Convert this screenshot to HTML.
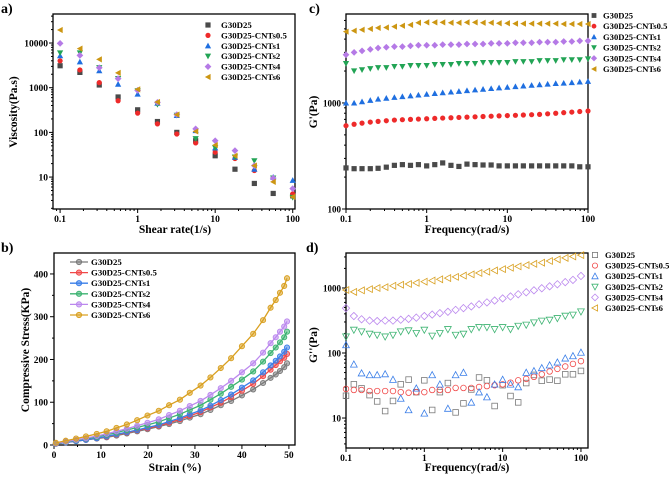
<!DOCTYPE html>
<html><head><meta charset="utf-8"><style>
body{margin:0;background:#fff;}
svg{display:block;font-family:"Liberation Serif",serif;font-weight:bold;}
</style></head><body>
<svg id="fig" width="669" height="478" viewBox="0 0 669 478"></svg>
<script>
// ---- Panel a data ----
const aX=[0.1,0.18,0.32,0.56,1,1.8,3.2,5.6,10,18,32,56,100];
const aG=[3100,2200,1150,620,320,175,100,65,30,15,7.2,4.3,3.8];
const aR=[4000,2500,1300,510,270,155,92,58,36,26,14,9.5,4.2];
const aB=[5200,3800,2400,1200,720,450,240,110,45,28,15,10,8.5];
const aGr=[6000,6000,2800,1600,850,420,240,72,45,28,23,9.5,3.5];
const aP=[9800,5300,2800,1600,870,470,250,120,65,39,18,9.5,5.5];
const aY=[19500,7500,4300,2150,920,480,250,105,52,30,18,7.8,3.6];
// ---- Panel b data ----
const bX=[0.4,2.5,4.7,6.8,9.1,11.2,13.3,15.5,17.7,19.9,22.3,24.5,26.8,28.9,31.2,33.3,35.5,37.7,40,42.4,44.5,46.1,47.2,48.1,49,49.6];
const bG=[3,6,9,12,15,18,22,27,32,37,43,49,56,64,72,82,93,103,116,130,145,157,165,173,182,191];
const bR=[3,6,9,12,16,19,24,29,34,39,45,52,60,68,77,88,99,112,127,143,161,176,187,196,204,213];
const bB=[3,6,9,12,16,20,25,30,35,41,47,55,63,72,81,92,105,118,134,151,170,186,197,207,218,228];
const bGr=[4,7,11,15,19,24,29,35,41,47,54,63,72,82,93,106,120,136,153,172,195,215,228,240,252,265];
const bP=[4,8,12,16,21,26,32,38,45,52,60,70,80,91,103,117,133,150,170,191,216,238,252,265,277,289];
const bY=[5,10,15,20,26,32,40,48,58,69,80,93,106,122,139,158,180,203,231,260,292,321,339,356,372,390];
// ---- Panels c/d frequencies ----
const fX=[0.1,0.126,0.158,0.2,0.25,0.316,0.398,0.5,0.63,0.79,1,1.26,1.58,2,2.51,3.16,3.98,5,6.3,7.9,10,12.6,15.8,20,25.1,31.6,39.8,50,63,79,100];
const cG=[244,240,240,240,242,248,258,262,258,262,255,262,272,258,252,265,262,260,260,255,255,255,255,255,255,255,255,255,255,250,250];
const cR=[610,630,645,660,670,680,690,695,700,705,710,715,720,725,730,735,740,745,750,755,760,765,770,775,780,790,800,810,820,830,840];
const cB=[1000,1000,1030,1060,1090,1110,1130,1150,1170,1190,1210,1230,1250,1270,1290,1310,1330,1350,1370,1390,1410,1430,1450,1470,1490,1510,1530,1540,1560,1580,1600];
const cGr=[2350,2000,2050,2100,2150,2150,2200,2200,2250,2250,2250,2300,2300,2300,2350,2350,2350,2400,2400,2400,2400,2450,2450,2450,2500,2500,2500,2550,2550,2550,2600];
const cP=[2850,3000,3100,3200,3300,3350,3400,3400,3450,3500,3500,3500,3550,3550,3550,3600,3600,3600,3650,3650,3650,3700,3700,3700,3750,3750,3750,3800,3800,3850,3850];
const cY=[4700,4800,4900,5000,5100,5150,5250,5350,5450,5700,5750,5750,5750,5700,5700,5750,5750,5700,5700,5650,5650,5600,5600,5600,5600,5600,5600,5550,5550,5550,5550];
const dG=[22,33,28.6,22.5,18,12.8,18.3,33,39,25,38,13.3,25,34.5,12.2,16.8,27.5,42,38,15.3,32,21.8,17.4,34.5,46,37.5,39,37.5,47,47,53];
const dR=[28,27,27,26,26,26,26,25,24.5,25,25,27,27,27,29,29,29,30,31,32,33,35,38,40,43,47,52,57,62,68,75];
const dB=[133,67,49,46,46,47.5,39,20,13.3,28.6,11.8,46,33,14,46,50,17.4,25,21,33,39,33,30,50,53,59,65,72,83,90,102];
const dGr=[178,226,213,196,189,178,189,213,221,201,226,183,201,231,189,196,231,248,248,231,248,231,260,270,293,311,322,341,371,385,432];
const dP=[490,370,330,315,310,315,315,325,335,350,370,390,410,430,460,490,520,560,600,640,690,740,800,860,920,990,1060,1140,1230,1330,1530];
const dY=[930,870,920,960,1000,1030,1080,1120,1150,1200,1250,1300,1360,1420,1480,1550,1620,1700,1780,1860,1950,2050,2150,2250,2350,2450,2600,2750,2900,3050,3200];
const names=['G30D25','G30D25-CNTs0.5','G30D25-CNTs1','G30D25-CNTs2','G30D25-CNTs4','G30D25-CNTs6'];
const aTicks=['0.1','1','10','100'];

const NS='http://www.w3.org/2000/svg';
const svg=document.getElementById('fig');
function el(tag,attrs,parent,text){const e=document.createElementNS(NS,tag);for(const k in attrs)e.setAttribute(k,attrs[k]);if(text!==undefined)e.textContent=text;(parent||svg).appendChild(e);return e;}
const COL=['#4a4a4a','#ee2a2a','#1f6fe0','#22a455','#b57ae6','#cc9612'];
const COLb=['#7a7a7a','#f04848','#3a7ee8','#3cb371','#bb88ee','#d9a020'];

function logScale(min,max,p0,p1){const a=Math.log10(min),b=Math.log10(max);return v=>p0+(Math.log10(v)-a)/(b-a)*(p1-p0);}
function linScale(min,max,p0,p1){return v=>p0+(v-min)/(max-min)*(p1-p0);}

function marker(g,type,x,y,c,filled,s){
  s=s||2.6;
  const f=filled?c:'none',st=filled?'none':c;
  const common={fill:f,stroke:st,'stroke-width':filled?0:0.8};
  let m;
  if(type==='sq')m=el('rect',Object.assign({x:x-s,y:y-s,width:2*s,height:2*s},common),g);
  else if(type==='ci')m=el('circle',Object.assign({cx:x,cy:y,r:s},common),g);
  else if(type==='tu')m=el('polygon',Object.assign({points:`${x},${y-s*1.2} ${x-s*1.2},${y+s} ${x+s*1.2},${y+s}`},common),g);
  else if(type==='td')m=el('polygon',Object.assign({points:`${x},${y+s*1.2} ${x-s*1.2},${y-s} ${x+s*1.2},${y-s}`},common),g);
  else if(type==='di')m=el('polygon',Object.assign({points:`${x},${y-s*1.3} ${x+s*1.3},${y} ${x},${y+s*1.3} ${x-s*1.3},${y}`},common),g);
  else m=el('polygon',Object.assign({points:`${x-s*1.2},${y} ${x+s},${y-s*1.2} ${x+s},${y+s*1.2}`},common),g);
  
  
  return m;
}
const TYPES=['sq','ci','tu','td','di','tl'];

function frame(g,L,T,R,B){el('rect',{x:L,y:T,width:R-L,height:B-T,fill:'none',stroke:'#000','stroke-width':1.3},g);}
function logXAxis(g,sx,B,min,max,labels){
  for(let d=Math.floor(Math.log10(min));d<=Math.ceil(Math.log10(max));d++){
    for(let k=1;k<10;k++){const v=k*Math.pow(10,d);if(v<min*0.999||v>max*1.001)continue;const x=sx(v);
      el('line',{x1:x,y1:B,x2:x,y2:B+(k===1?4:2),stroke:'#000','stroke-width':1},g);}
  }
  labels.forEach(l=>{const t=el('text',{x:sx(parseFloat(l)),y:B+13,'font-size':9.5,'text-anchor':'middle'},g,l);});
}
function logYAxis(g,sy,L,min,max,labels,fs){
  for(let d=Math.floor(Math.log10(min));d<=Math.ceil(Math.log10(max));d++){
    for(let k=1;k<10;k++){const v=k*Math.pow(10,d);if(v<min*0.999||v>max*1.001)continue;const y=sy(v);
      el('line',{x1:L,y1:y,x2:L-(k===1?4:2),y2:y,stroke:'#000','stroke-width':1},g);}
  }
  labels.forEach(l=>{const t=el('text',{x:L-5,y:sy(parseFloat(l))+3.5,'font-size':fs||9.5,'text-anchor':'end'},g,l);});
}
function title(g,txt,x,y,rot,name){const a={x:x,y:y,'font-size':11.5,'text-anchor':'middle'};if(rot)a.transform=`rotate(-90 ${x} ${y})`;const t=el('text',a,g,txt);}
function plabel(txt,x,y){const t=el('text',{x:x,y:y,'font-size':14},svg,txt);}

// ===== Panel a =====
(function(){
  const g=el('g',{});
  const L=53,R=295,T=14,B=209;
  const sx=logScale(0.081,107,L,R), sy=logScale(1.93,44600,B,T);
  frame(g,L,T,R,B);
  logXAxis(g,sx,B,0.081,107,aTicks);
  logYAxis(g,sy,L,1.93,44600,['10','100','1000','10000']);
  [aG,aR,aB,aGr,aP,aY].forEach((s,i)=>s.forEach((v,j)=>marker(g,TYPES[i],sx(aX[j]),sy(v),COL[i],true,2.6)));
  names.forEach((n,i)=>{const y=25+i*10.4;marker(g,TYPES[i],208,y,COL[i],true,2.6);const t=el('text',{x:221,y:y+3,'font-size':8.8},g,n);});
  title(g,'Shear rate(1/s)',175,233,false,'x-axis-title');
  title(g,'Viscosity(Pa.s)',17,112,true,'y-axis-title');
})();
plabel('a)',1,13);

// ===== Panel c =====
(function(){
  const g=el('g',{});
  const L=346,R=588,T=14,B=209;
  const sx=logScale(0.1,100,L,R), sy=logScale(100,6900,B,T);
  frame(g,L,T,R,B);
  logXAxis(g,sx,B,0.1,100,aTicks);
  logYAxis(g,sy,L,100,6900,['100','1000'],9);
  [cG,cR,cB,cGr,cP,cY].forEach((s,i)=>s.forEach((v,j)=>marker(g,TYPES[i],sx(fX[j]),sy(v),COL[i],true,2.6)));
  names.forEach((n,i)=>{const y=15.5+i*10.7;marker(g,TYPES[i],594,y,COL[i],true,2.4);const t=el('text',{x:603,y:y+3,'font-size':8.6},g,n);});
  title(g,"Frequency(rad/s)",467,233,false,'x-axis-title');
  title(g,"G'(Pa)",317,112,true,'y-axis-title');
})();
plabel('c)',309,13);

// ===== Panel b =====
(function(){
  const g=el('g',{});
  const L=54,R=295,T=253,B=445;
  const sx=linScale(0,51.3,L,R), sy=linScale(0,449,B,T);
  frame(g,L,T,R,B);
  [0,10,20,30,40,50].forEach(v=>{const x=sx(v);el('line',{x1:x,y1:B,x2:x,y2:B+4,stroke:'#000'},g);const t=el('text',{x:x,y:B+13,'font-size':9.5,'text-anchor':'middle'},g,String(v));});
  [5,15,25,35,45].forEach(v=>{const x=sx(v);el('line',{x1:x,y1:B,x2:x,y2:B+2,stroke:'#000'},g);});
  [0,100,200,300,400].forEach(v=>{const y=sy(v);el('line',{x1:L,y1:y,x2:L-4,y2:y,stroke:'#000'},g);const t=el('text',{x:L-6,y:y+3.5,'font-size':9.5,'text-anchor':'end'},g,String(v));});
  [50,150,250,350].forEach(v=>{const y=sy(v);el('line',{x1:L,y1:y,x2:L-2,y2:y,stroke:'#000'},g);});
  [bG,bR,bB,bGr,bP,bY].forEach((s,i)=>{
    const pts=s.map((v,j)=>sx(bX[j])+','+sy(v)).join(' ');
    const pl=el('polyline',{points:pts,fill:'none',stroke:COLb[i],'stroke-width':1.3},g);
    
    s.forEach((v,j)=>{const c=el('circle',{cx:sx(bX[j]),cy:sy(v),r:2.6,fill:COLb[i],'fill-opacity':0.55,stroke:COLb[i],'stroke-width':0.9},g);});
  });
  names.forEach((n,i)=>{const y=262+i*10.6;el('line',{x1:70,y1:y,x2:88,y2:y,stroke:COLb[i],'stroke-width':1.3},g);el('circle',{cx:79,cy:y,r:2.6,fill:COLb[i],'fill-opacity':0.55,stroke:COLb[i]},g);const t=el('text',{x:91,y:y+3,'font-size':8.8},g,n);});
  title(g,'Strain (%)',175,471,false,'x-axis-title');
  title(g,'Compressive Stress(KPa)',29,350,true,'y-axis-title');
})();
plabel('b)',1,252);

// ===== Panel d =====
(function(){
  const g=el('g',{});
  const L=346,R=588,T=253,B=448;
  const sx=logScale(0.1,123,L,R), sy=logScale(3.46,3450,B,T);
  frame(g,L,T,R,B);
  logXAxis(g,sx,B,0.1,123,aTicks);
  logYAxis(g,sy,L,3.46,3450,['10','100','1000'],9);
  [dG,dR,dB,dGr,dP,dY].forEach((s,i)=>s.forEach((v,j)=>marker(g,TYPES[i],sx(fX[j]),sy(v),COLb[i],false,2.8)));
  names.forEach((n,i)=>{const y=255+i*10.6;marker(g,TYPES[i],595,y,COLb[i],false,2.6);const t=el('text',{x:605,y:y+3,'font-size':8.6},g,n);});
  title(g,"Frequency(rad/s)",467,471,false,'x-axis-title');
  title(g,"G''(Pa)",317,345,true,'y-axis-title');
})();
plabel('d)',306,252);
</script>
</body></html>
